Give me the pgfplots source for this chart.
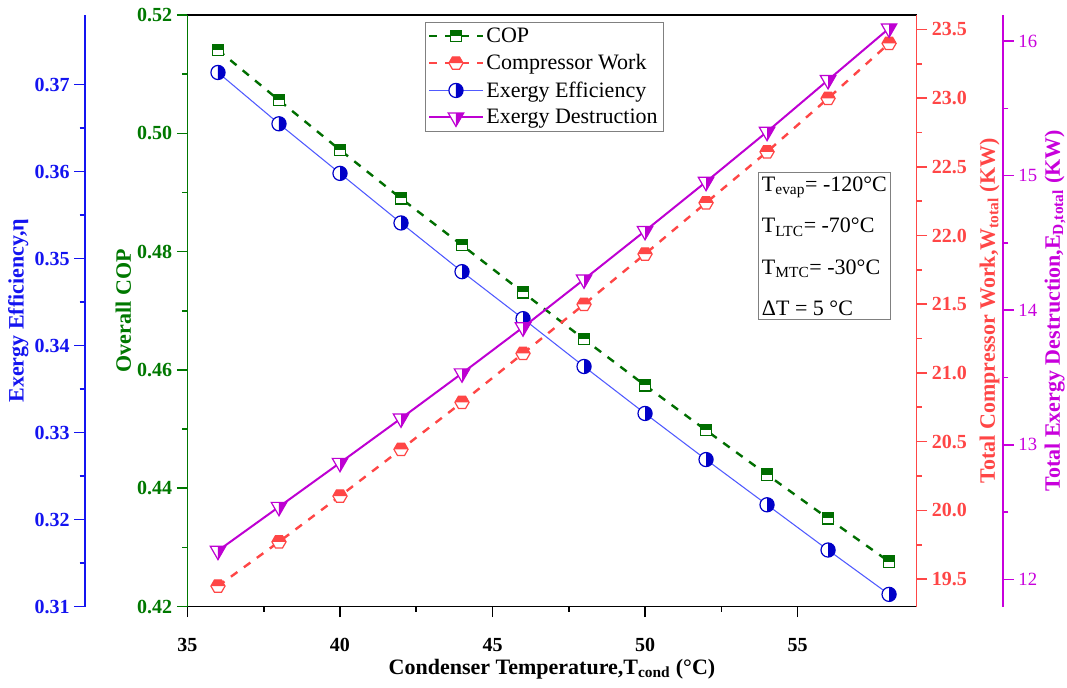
\documentclass[border=0pt]{standalone}
\usepackage{fontspec}
\setmainfont{Liberation Serif}
\usepackage{pgfplots}
\pgfplotsset{compat=1.18}

\definecolor{copgreen}{RGB}{0,110,0}
\definecolor{cwred}{RGB}{255,70,70}
\definecolor{eeblue}{RGB}{0,0,200}
\definecolor{eeline}{RGB}{80,90,255}
\definecolor{edmag}{RGB}{190,0,210}
\definecolor{axblue}{RGB}{20,20,240}
\definecolor{axgreen}{RGB}{0,120,0}
\definecolor{axred}{RGB}{255,70,70}
\definecolor{axmag}{RGB}{200,0,220}

% half filled marks
\pgfdeclareplotmark{halfsquare}{%
  \pgfsetdash{}{0pt}\pgfsetlinewidth{0.9pt}%
  \pgfsetfillcolor{white}%
  \pgfpathrectangle{\pgfqpoint{-\pgfplotmarksize}{-\pgfplotmarksize}}{\pgfqpoint{2\pgfplotmarksize}{2\pgfplotmarksize}}%
  \pgfusepathqfill
  \pgfsetfillcolor{copgreen}%
  \pgfpathrectangle{\pgfqpoint{-\pgfplotmarksize}{0pt}}{\pgfqpoint{2\pgfplotmarksize}{\pgfplotmarksize}}%
  \pgfusepathqfill
  \pgfsetstrokecolor{copgreen}%
  \pgfpathrectangle{\pgfqpoint{-\pgfplotmarksize}{-\pgfplotmarksize}}{\pgfqpoint{2\pgfplotmarksize}{2\pgfplotmarksize}}%
  \pgfusepathqstroke
}
\pgfdeclareplotmark{halfhex}{%
  \pgfsetdash{}{0pt}\pgfsetlinewidth{0.9pt}%
  \pgfsetfillcolor{white}%
  \pgfpathmoveto{\pgfqpoint{\pgfplotmarksize}{0pt}}%
  \pgfpathlineto{\pgfqpoint{0.5\pgfplotmarksize}{0.866\pgfplotmarksize}}%
  \pgfpathlineto{\pgfqpoint{-0.5\pgfplotmarksize}{0.866\pgfplotmarksize}}%
  \pgfpathlineto{\pgfqpoint{-\pgfplotmarksize}{0pt}}%
  \pgfpathlineto{\pgfqpoint{-0.5\pgfplotmarksize}{-0.866\pgfplotmarksize}}%
  \pgfpathlineto{\pgfqpoint{0.5\pgfplotmarksize}{-0.866\pgfplotmarksize}}%
  \pgfpathclose
  \pgfusepathqfill
  \pgfsetfillcolor{cwred}%
  \pgfpathmoveto{\pgfqpoint{\pgfplotmarksize}{0pt}}%
  \pgfpathlineto{\pgfqpoint{0.5\pgfplotmarksize}{0.866\pgfplotmarksize}}%
  \pgfpathlineto{\pgfqpoint{-0.5\pgfplotmarksize}{0.866\pgfplotmarksize}}%
  \pgfpathlineto{\pgfqpoint{-\pgfplotmarksize}{0pt}}%
  \pgfpathclose
  \pgfusepathqfill
  \pgfsetstrokecolor{cwred}%
  \pgfpathmoveto{\pgfqpoint{\pgfplotmarksize}{0pt}}%
  \pgfpathlineto{\pgfqpoint{0.5\pgfplotmarksize}{0.866\pgfplotmarksize}}%
  \pgfpathlineto{\pgfqpoint{-0.5\pgfplotmarksize}{0.866\pgfplotmarksize}}%
  \pgfpathlineto{\pgfqpoint{-\pgfplotmarksize}{0pt}}%
  \pgfpathlineto{\pgfqpoint{-0.5\pgfplotmarksize}{-0.866\pgfplotmarksize}}%
  \pgfpathlineto{\pgfqpoint{0.5\pgfplotmarksize}{-0.866\pgfplotmarksize}}%
  \pgfpathclose
  \pgfusepathqstroke
}
\pgfdeclareplotmark{halfcircle}{%
  \pgfsetdash{}{0pt}\pgfsetlinewidth{0.9pt}%
  \pgfsetfillcolor{white}%
  \pgfpathcircle{\pgfpointorigin}{\pgfplotmarksize}%
  \pgfusepathqfill
  \pgfsetfillcolor{eeblue}%
  \pgfpathmoveto{\pgfqpoint{0pt}{\pgfplotmarksize}}%
  \pgfpatharc{90}{-90}{\pgfplotmarksize}%
  \pgfpathclose
  \pgfusepathqfill
  \pgfsetstrokecolor{eeblue}%
  \pgfpathcircle{\pgfpointorigin}{\pgfplotmarksize}%
  \pgfusepathqstroke
}
\pgfdeclareplotmark{halftri}{%
  \pgfsetdash{}{0pt}\pgfsetlinewidth{0.9pt}%
  \pgfsetfillcolor{white}%
  \pgfpathmoveto{\pgfqpoint{-\pgfplotmarksize}{0.577\pgfplotmarksize}}%
  \pgfpathlineto{\pgfqpoint{\pgfplotmarksize}{0.577\pgfplotmarksize}}%
  \pgfpathlineto{\pgfqpoint{0pt}{-1.155\pgfplotmarksize}}%
  \pgfpathclose
  \pgfusepathqfill
  \pgfsetfillcolor{edmag}%
  \pgfpathmoveto{\pgfqpoint{0pt}{0.577\pgfplotmarksize}}%
  \pgfpathlineto{\pgfqpoint{\pgfplotmarksize}{0.577\pgfplotmarksize}}%
  \pgfpathlineto{\pgfqpoint{0pt}{-1.155\pgfplotmarksize}}%
  \pgfpathclose
  \pgfusepathqfill
  \pgfsetstrokecolor{edmag}%
  \pgfpathmoveto{\pgfqpoint{-\pgfplotmarksize}{0.577\pgfplotmarksize}}%
  \pgfpathlineto{\pgfqpoint{\pgfplotmarksize}{0.577\pgfplotmarksize}}%
  \pgfpathlineto{\pgfqpoint{0pt}{-1.155\pgfplotmarksize}}%
  \pgfpathclose
  \pgfusepathqstroke
}

\pgfplotsset{
  base/.style={
    scale only axis, width=546.75pt, height=443.6pt,
    xmin=35, xmax=58.9, at={(0,0)}, anchor=south west,
    clip=false,
    /pgf/number format/assume math mode=true,
    tick align=outside, minor tick num=1,
    major tick length=8pt, minor tick length=4pt,
    label style={font=\bfseries\fontsize{16.5}{18}\selectfont, inner sep=1pt},
    ticklabel style={font=\bfseries\fontsize{15}{17}\selectfont},
  },
  copstyle/.style={copgreen, line width=1.8pt, dash pattern=on 6pt off 6pt, mark=halfsquare, mark size=4.2pt},
  cwstyle/.style={cwred, line width=1.8pt, dash pattern=on 6pt off 6pt, mark=halfhex, mark size=5.3pt},
  eestyle/.style={eeline, line width=0.8pt, mark=halfcircle, mark size=5.3pt},
  edstyle/.style={edmag, line width=1.5pt, mark=halftri, mark size=5.8pt},
}

\begin{document}
\begin{tikzpicture}
\path (-140.6pt,-60.4pt) rectangle (659.6pt,454.9pt);

% blue axis (offset to the left)
\begin{axis}[base, at={(-76.9pt,0)},
  ymin=0.31, ymax=0.378,
  hide x axis, axis y line*=left,
  y axis line style={axblue, line width=1.4pt},
  ytick style={axblue, line width=1.2pt},
  ytick={0.31,0.32,0.33,0.34,0.35,0.36,0.37},
  yticklabel style={axblue, /pgf/number format/.cd, fixed, fixed zerofill, precision=2},
  ylabel={Exergy Efficiency,η}, ylabel style={axblue},
]
\end{axis}

% exergy efficiency data
\begin{axis}[base, ymin=0.31, ymax=0.378, hide x axis, hide y axis]
\addplot[eestyle] coordinates {
  (36,0.3714)(38,0.3655)(40,0.3598)(42,0.3541)(44,0.3485)(46,0.3431)
  (48,0.3376)(50,0.3322)(52,0.3269)(54,0.3217)(56,0.3165)(58,0.3114)
};
\end{axis}

% main axis: COP
\begin{axis}[base,
  ymin=0.42, ymax=0.52,
  axis x line*=box, axis y line*=left,
  xtick pos=left,
  x axis line style={black, line width=1.4pt},
  y axis line style={axgreen, line width=1.4pt},
  xtick style={black, line width=1.2pt},
  ytick style={axgreen, line width=1.2pt},
  xtick={35,40,45,50,55},
  ytick={0.42,0.44,0.46,0.48,0.50,0.52},
  xticklabel style={black, yshift=-12pt},
  yticklabel style={axgreen, /pgf/number format/.cd, fixed, fixed zerofill, precision=2},
  xlabel={Condenser Temperature,T\textsubscript{cond} (°C)},
  xlabel style={yshift=-1pt},
  ylabel={Overall COP}, ylabel style={axgreen},
]
\addplot[copstyle] coordinates {
  (36,0.5141)(38,0.5056)(40,0.4972)(42,0.4890)(44,0.4811)(46,0.4731)
  (48,0.4652)(50,0.4574)(52,0.4498)(54,0.4423)(56,0.4349)(58,0.4276)
};
\end{axis}

% compressor work
\begin{axis}[base,
  ymin=19.30, ymax=23.604,
  hide x axis, axis y line*=right,
  y axis line style={axred, line width=1.4pt},
  ytick style={axred, line width=1.2pt},
  ytick={19.5,20,20.5,21,21.5,22,22.5,23,23.5},
  yticklabel style={axred, /pgf/number format/.cd, fixed, fixed zerofill, precision=1},
  ylabel={Total Compressor Work,W\textsubscript{total} (KW)}, ylabel style={axred},
  ylabel shift=5pt,
]
\addplot[cwstyle] coordinates {
  (36,19.449)(38,19.771)(40,20.104)(42,20.444)(44,20.786)(46,21.142)
  (48,21.499)(50,21.865)(52,22.238)(54,22.609)(56,22.998)(58,23.398)
};
\end{axis}

% exergy destruction axis (offset to the right)
\begin{axis}[base, at={(64.9pt,0)},
  ymin=11.798, ymax=16.193,
  hide x axis, axis y line*=right,
  y axis line style={axmag, line width=1.4pt},
  ytick style={axmag, line width=1.2pt},
  ytick={12,13,14,15,16},
  yticklabel style={axmag, font=\fontsize{14}{16}\selectfont},
  ylabel={Total Exergy Destruction,E\textsubscript{D,total} (KW)}, ylabel style={axmag},
  ylabel shift=1pt,
]
\end{axis}

% exergy destruction data, legend and note
\begin{axis}[base, ymin=11.798, ymax=16.193, hide x axis, hide y axis,
  legend style={at={(0.326,0.988)}, anchor=north west, draw=gray, line width=0.6pt,
    font=\fontsize{16.5}{19}\selectfont, row sep=3.5pt, inner sep=2pt},
  legend cell align=left,
  legend image code/.code={\draw[mark repeat=2,mark phase=2] plot coordinates {(0cm,0cm) (0.7cm,0cm) (1.4cm,0cm)};},
]
\addlegendimage{copstyle}
\addlegendentry{COP}
\addlegendimage{cwstyle}
\addlegendentry{Compressor Work}
\addlegendimage{eestyle}
\addlegendentry{Exergy Efficiency}
\addlegendimage{edstyle}
\addlegendentry{Exergy Destruction}
\addplot[edstyle, forget plot] coordinates {
  (36,12.213)(38,12.539)(40,12.866)(42,13.196)(44,13.531)(46,13.873)
  (48,14.229)(50,14.589)(52,14.954)(54,15.326)(56,15.710)(58,16.094)
};
\node[draw=gray, line width=0.6pt, anchor=north west, align=left, inner sep=3pt,
  font=\fontsize{16.5}{31}\selectfont] at (rel axis cs:0.782,0.734)
  {T\textsubscript{evap}= -120°C\\T\textsubscript{LTC}= -70°C\\T\textsubscript{MTC}= -30°C\\ΔT = 5 °C};
\end{axis}
\end{tikzpicture}
\end{document}
